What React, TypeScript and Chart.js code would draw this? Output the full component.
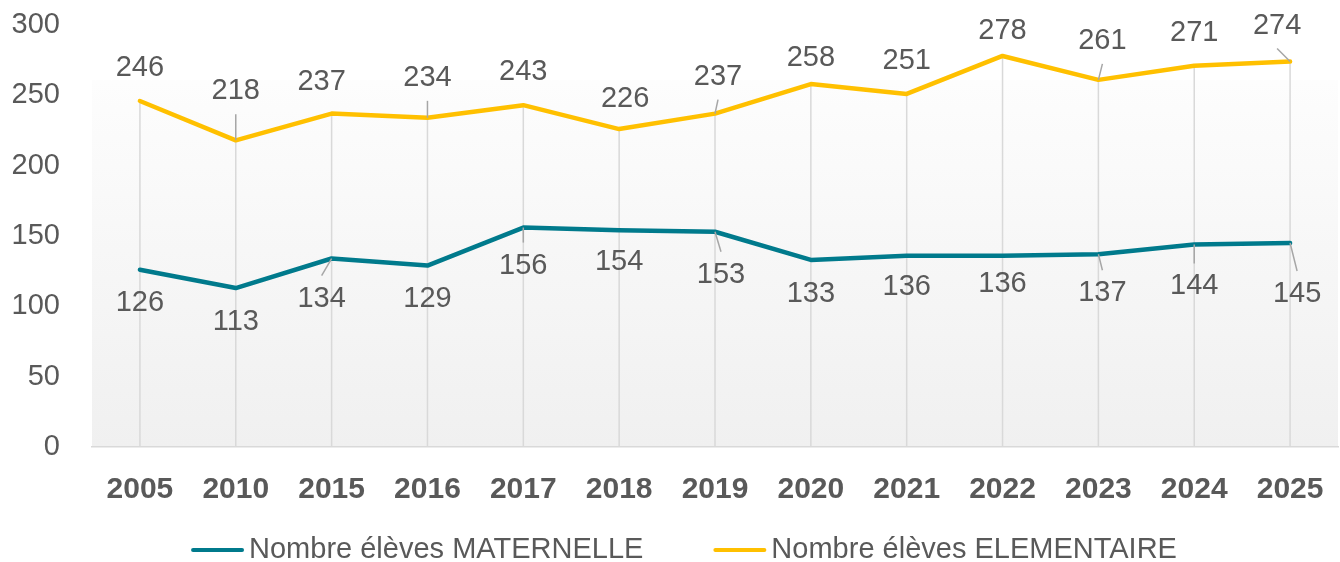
import React, { useEffect, useRef } from "react";
import { Chart, registerables } from "chart.js";

Chart.register(...registerables);

const years = ["2005", "2010", "2015", "2016", "2017", "2018", "2019", "2020", "2021", "2022", "2023", "2024", "2025"];
const maternelle = [126, 113, 134, 129, 156, 154, 153, 133, 136, 136, 137, 144, 145];
const elementaire = [246, 218, 237, 234, 243, 226, 237, 258, 251, 278, 261, 271, 274];
const seriesNames = ["Nombre élèves MATERNELLE", "Nombre élèves ELEMENTAIRE"];
const yMin = 0;
const yMax = 300;
const yStep = 50;

// data-label offsets (pixels) relative to each point
const matLabelDx = [0, 0, -10, 0, 0, 0, 6, 0, 0, 0, 4, 0, 7];
const matLabelDy = [33, 34, 40, 33, 38, 32, 43, 34, 31, 28, 39, 42, 51];
const eleLabelDx = [0, 0, -10, 0, 0, 6, 3, 0, 0, 0, 4, 0, -13];
const eleLabelDy = [-33, -49, -32, -40, -33, -30, -37, -26, -33, -25, -39, -33, -36];

const TEAL = "#007A8C";
const GOLD = "#FFC000";
const TEXT = "#595959";
const FONT = "'Liberation Sans', Arial, sans-serif";

const bgPlugin = {
  id: "bgGradient",
  beforeDraw(chart: any) {
    const { ctx, chartArea: a } = chart;
    const g = ctx.createLinearGradient(0, a.top, 0, a.bottom);
    g.addColorStop(0, "#ffffff");
    g.addColorStop(1, "#f0f0f0");
    ctx.save();
    ctx.fillStyle = g;
    ctx.fillRect(a.left, a.top + 55, a.right - a.left, a.bottom - a.top - 55);
    ctx.restore();
  },
};

const dropLinePlugin = {
  id: "dropLines",
  beforeDatasetsDraw(chart: any) {
    const { ctx, chartArea: a } = chart;
    const m0 = chart.getDatasetMeta(0).data;
    const m1 = chart.getDatasetMeta(1).data;
    ctx.save();
    ctx.strokeStyle = "#d9d9d9";
    ctx.lineWidth = 1.5;
    for (let i = 0; i < m0.length; i++) {
      const top = Math.min(m0[i].y, m1[i].y);
      ctx.beginPath();
      ctx.moveTo(m0[i].x, top);
      ctx.lineTo(m0[i].x, a.bottom);
      ctx.stroke();
    }
    ctx.restore();
  },
};

const labelPlugin = {
  id: "dataLabels",
  afterDatasetsDraw(chart: any) {
    const { ctx } = chart;
    const offsets = [
      [matLabelDx, matLabelDy],
      [eleLabelDx, eleLabelDy],
    ];
    ctx.save();
    chart.data.datasets.forEach((ds: any, di: number) => {
      const meta = chart.getDatasetMeta(di);
      const [dxs, dys] = offsets[di];
      meta.data.forEach((el: any, i: number) => {
        const dx = dxs[i];
        const dy = dys[i];
        const lx = el.x + dx;
        const ly = el.y + dy;
        if (Math.hypot(dx, dy) > 35) {
          const sy = dy < 0 ? ly + 23 : ly - 23;
          ctx.strokeStyle = "#a6a6a6";
          ctx.lineWidth = 1.5;
          ctx.beginPath();
          ctx.moveTo(lx, sy);
          ctx.lineTo(el.x, el.y);
          ctx.stroke();
        }
        ctx.fillStyle = TEXT;
        ctx.font = `29px ${FONT}`;
        ctx.textAlign = "center";
        ctx.textBaseline = "middle";
        ctx.fillText(String(ds.data[i]), lx, ly);
      });
    });
    ctx.restore();
  },
};

const legendPlugin = {
  id: "customLegend",
  afterDraw(chart: any) {
    const { ctx, width } = chart;
    const lineW = 53;
    const gap = 5;
    const between = 70;
    const y = 550;
    ctx.save();
    ctx.font = `29px ${FONT}`;
    const widths = seriesNames.map((n) => ctx.measureText(n).width);
    const total = widths.reduce((s, w) => s + lineW + gap + w, 0) + between;
    let x = width / 2 + 14 - total / 2;
    chart.data.datasets.forEach((ds: any, i: number) => {
      ctx.strokeStyle = ds.borderColor;
      ctx.lineWidth = 4;
      ctx.lineCap = "round";
      ctx.beginPath();
      ctx.moveTo(x + 2, y);
      ctx.lineTo(x + lineW - 2, y);
      ctx.stroke();
      ctx.fillStyle = TEXT;
      ctx.textAlign = "left";
      ctx.textBaseline = "middle";
      ctx.fillText(seriesNames[i], x + lineW + gap, y);
      x += lineW + gap + widths[i] + between;
    });
    ctx.restore();
  },
};

export default function App() {
  const ref = useRef<HTMLCanvasElement>(null);
  useEffect(() => {
    document.body.style.margin = "0";
    const chart = new Chart(ref.current as HTMLCanvasElement, {
      type: "line",
      data: {
        labels: years,
        datasets: [
          {
            label: seriesNames[0],
            data: maternelle,
            borderColor: TEAL,
            backgroundColor: TEAL,
            borderWidth: 4.5,
            pointRadius: 0,
            borderCapStyle: "round",
            borderJoinStyle: "round",
            tension: 0,
          },
          {
            label: seriesNames[1],
            data: elementaire,
            borderColor: GOLD,
            backgroundColor: GOLD,
            borderWidth: 4.5,
            pointRadius: 0,
            borderCapStyle: "round",
            borderJoinStyle: "round",
            tension: 0,
          },
        ],
      },
      options: {
        responsive: false,
        animation: false,
        layout: { padding: { top: 25, right: 2, bottom: 55, left: 0 } },
        plugins: {
          legend: { display: false },
          tooltip: { enabled: false },
        },
        scales: {
          x: {
            type: "category",
            offset: true,
            grid: { display: false, drawTicks: false },
            border: { display: true, color: "#d9d9d9", width: 1.5 },
            ticks: {
              color: TEXT,
              font: { family: FONT, size: 30, weight: "bold" },
              padding: 25,
              maxRotation: 0,
              autoSkip: false,
            },
            afterFit(scale: any) {
              scale.paddingLeft = 0;
              scale.paddingRight = 0;
              scale.height = 60;
            },
          },
          y: {
            min: yMin,
            max: yMax,
            grid: { display: false, drawTicks: false },
            border: { display: false },
            ticks: {
              stepSize: yStep,
              color: TEXT,
              font: { family: FONT, size: 29 },
              padding: 32,
            },
            afterFit(scale: any) {
              scale.width = 92;
              scale.paddingTop = 0;
              scale.paddingBottom = 0;
            },
          },
        },
      },
      plugins: [bgPlugin, dropLinePlugin, labelPlugin, legendPlugin],
    } as any);
    return () => chart.destroy();
  }, []);
  return <canvas ref={ref} width={1340} height={562} style={{ display: "block" }} />;
}
